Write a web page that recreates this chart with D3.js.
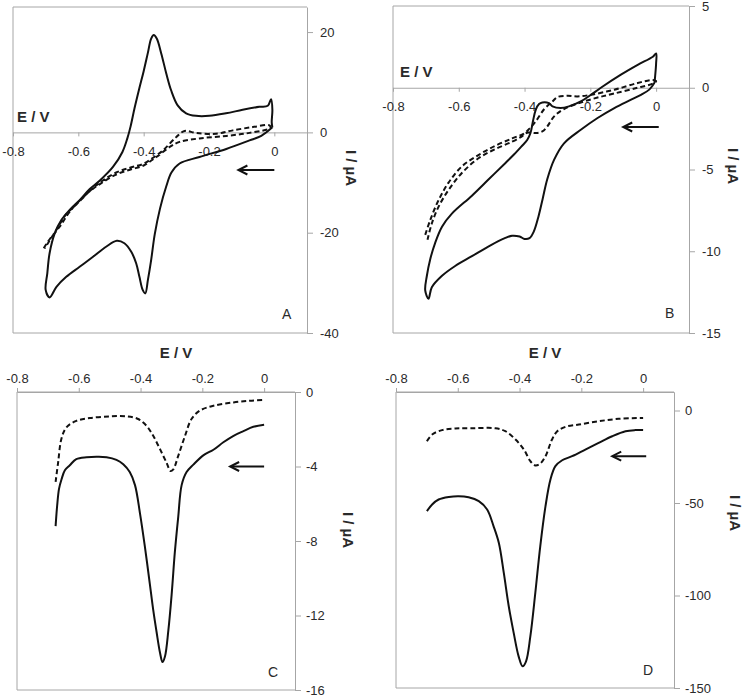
<!DOCTYPE html>
<html>
<head>
<meta charset="utf-8">
<script src="https://cdn.jsdelivr.net/npm/d3@7"></script>
<style>
  body { margin: 0; background: #fff; }
  svg { display: block; font-family: "Liberation Sans", Arial, sans-serif; }
</style>
</head>
<body>
<div id="chart"></div>
<script>
// ---- data: [E / V, I / µA] ----
const eTicks = [-0.8, -0.6, -0.4, -0.2, 0]

// A: cyclic voltammograms
const aSolid = [
  [-0.006, 1.0], [-0.04, -0.7], [-0.076, -1.6], [-0.147, -3.3], [-0.229, -4.9], [-0.29, -6.2],
  [-0.315, -8.0], [-0.331, -10.8], [-0.35, -15.2], [-0.366, -20.3],
  [-0.377, -25.4], [-0.387, -29.4], [-0.395, -32.1], [-0.403, -31.4], [-0.413, -28.8], [-0.423, -26.1],
  [-0.438, -23.8], [-0.459, -22.1], [-0.482, -21.6], [-0.515, -22.8], [-0.555, -24.8], [-0.596, -26.8],
  [-0.637, -28.8], [-0.667, -30.8], [-0.688, -32.9], [-0.700, -31.4], [-0.695, -28.1], [-0.688, -24.1],
  [-0.672, -20.1], [-0.652, -17.5], [-0.627, -15.5], [-0.596, -13.5], [-0.565, -11.3], [-0.534, -9.6],
  [-0.494, -6.9], [-0.465, -3.9], [-0.45, -1.2], [-0.44, 1.2], [-0.428, 4.8], [-0.414, 8.6],
  [-0.40, 12.2], [-0.387, 15.9], [-0.377, 18.7], [-0.369, 19.4], [-0.36, 18.7], [-0.346, 15.7],
  [-0.331, 11.8], [-0.316, 8.4], [-0.296, 5.4], [-0.27, 3.8], [-0.24, 3.3], [-0.199, 3.3], [-0.148, 3.8],
  [-0.097, 4.5], [-0.046, 5.1], [-0.02, 5.3], [-0.01, 6.6], [-0.006, 4.5], [-0.008, 2.0], [-0.006, 1.0]
]
const aDash = [
  [-0.706, -23.1], [-0.69, -21.5], [-0.657, -18.8], [-0.626, -15.8], [-0.586, -13.0], [-0.534, -10.0],
  [-0.484, -8.0], [-0.44, -7.0], [-0.402, -6.3], [-0.37, -5.0], [-0.341, -3.6], [-0.3, -0.93],
  [-0.275, 0.27], [-0.239, -0.13], [-0.178, -0.27], [-0.127, 0.4], [-0.066, 1.06], [-0.015, 1.4],
  [-0.012, 0.9], [-0.076, -0.1], [-0.147, -0.7], [-0.229, -1.2], [-0.29, -1.9], [-0.32, -2.9],
  [-0.361, -4.9], [-0.40, -6.6], [-0.44, -7.4], [-0.484, -8.4], [-0.534, -10.3], [-0.566, -11.8],
  [-0.606, -14.4], [-0.637, -16.3], [-0.668, -19.5], [-0.693, -22.1], [-0.703, -23.1]
]

// B: cyclic voltammograms
const bSolid = [
  [-0.005, 0.3], [-0.02, -0.1], [-0.046, -0.43], [-0.076, -0.73], [-0.127, -1.24], [-0.178, -1.85],
  [-0.229, -2.57], [-0.28, -3.4], [-0.31, -4.4], [-0.331, -5.6], [-0.345, -6.8], [-0.358, -7.9],
  [-0.372, -8.8], [-0.385, -9.2], [-0.40, -9.25], [-0.415, -9.1], [-0.438, -9.05], [-0.46, -9.2],
  [-0.509, -9.7], [-0.56, -10.3], [-0.611, -10.9], [-0.651, -11.5], [-0.682, -12.2], [-0.692, -12.9],
  [-0.702, -12.4], [-0.697, -11.5], [-0.687, -10.5], [-0.672, -9.5], [-0.651, -8.5], [-0.621, -7.7],
  [-0.56, -6.6], [-0.509, -5.6], [-0.458, -4.6], [-0.433, -4.1], [-0.41, -3.6], [-0.392, -3.2],
  [-0.382, -2.77], [-0.374, -2.0], [-0.366, -1.35], [-0.356, -1.0], [-0.346, -0.9], [-0.326, -0.94],
  [-0.315, -1.14], [-0.29, -1.24], [-0.265, -1.14], [-0.229, -0.84], [-0.198, -0.43], [-0.168, 0.0],
  [-0.107, 0.8], [-0.056, 1.4], [-0.01, 1.9], [0.0, 2.1], [0.0, 1.5], [-0.003, 0.7], [-0.005, 0.3]
]
const bDash = [
  [-0.702, -9.0], [-0.687, -8.1], [-0.662, -6.9], [-0.631, -5.8], [-0.59, -4.8], [-0.539, -4.1],
  [-0.489, -3.55], [-0.438, -3.1], [-0.402, -2.8], [-0.385, -2.5], [-0.366, -2.06], [-0.34, -1.3],
  [-0.315, -0.84], [-0.3, -0.57], [-0.27, -0.49], [-0.239, -0.53], [-0.198, -0.43], [-0.127, -0.12],
  [-0.056, 0.29], [-0.01, 0.47], [0.0, 0.4], [-0.01, 0.25], [-0.056, 0.0], [-0.127, -0.35],
  [-0.178, -0.6], [-0.229, -0.9], [-0.28, -1.3], [-0.31, -1.75], [-0.331, -2.37], [-0.346, -2.67],
  [-0.366, -2.77], [-0.392, -2.75], [-0.41, -3.0], [-0.438, -3.3], [-0.489, -3.75], [-0.539, -4.3],
  [-0.59, -5.2], [-0.631, -6.25], [-0.662, -7.3], [-0.682, -8.3], [-0.695, -9.3]
]

// C: voltammetric sweeps
const cSolid = [
  [-0.675, -7.2], [-0.670, -6.1], [-0.664, -5.2], [-0.656, -4.7], [-0.645, -4.2], [-0.629, -3.93],
  [-0.608, -3.6], [-0.575, -3.5], [-0.543, -3.48], [-0.51, -3.5], [-0.478, -3.64], [-0.456, -3.88],
  [-0.435, -4.3], [-0.418, -5.0], [-0.402, -6.5], [-0.386, -8.3], [-0.37, -10.3], [-0.359, -11.7],
  [-0.348, -12.9], [-0.337, -14.0], [-0.329, -14.5], [-0.321, -14.2], [-0.31, -12.8], [-0.299, -10.8],
  [-0.289, -8.6], [-0.278, -6.7], [-0.267, -5.0], [-0.251, -4.3], [-0.229, -3.9], [-0.197, -3.4],
  [-0.164, -3.1], [-0.132, -2.7], [-0.099, -2.35], [-0.067, -2.1], [-0.035, -1.87], [0, -1.76]
]
const cDash = [
  [-0.675, -4.83], [-0.667, -3.8], [-0.656, -2.5], [-0.64, -1.9], [-0.608, -1.55], [-0.564, -1.40],
  [-0.5, -1.31], [-0.445, -1.31], [-0.408, -1.45], [-0.381, -1.81], [-0.359, -2.35], [-0.337, -3.07],
  [-0.316, -3.79], [-0.303, -4.24], [-0.294, -4.15], [-0.278, -3.43], [-0.256, -2.35], [-0.235, -1.45],
  [-0.208, -1.0], [-0.164, -0.74], [-0.099, -0.56], [-0.045, -0.47], [0, -0.43]
]

// D: voltammetric sweeps
const dSolid = [
  [-0.700, -54.4], [-0.683, -50.8], [-0.662, -48.1], [-0.629, -46.7], [-0.597, -46.3], [-0.565, -46.9],
  [-0.532, -49.0], [-0.505, -53.5], [-0.484, -62.6], [-0.467, -71.6], [-0.451, -87.8], [-0.435, -105.8],
  [-0.419, -120.2], [-0.403, -132.9], [-0.390, -138.3], [-0.379, -135.6], [-0.365, -122.0], [-0.349, -98.6],
  [-0.333, -73.4], [-0.316, -51.7], [-0.300, -37.3], [-0.284, -30.1], [-0.262, -26.9], [-0.230, -24.7],
  [-0.187, -21.1], [-0.144, -17.5], [-0.100, -13.9], [-0.057, -11.2], [-0.025, -10.6], [0, -10.6]
]
const dDash = [
  [-0.700, -16.6], [-0.683, -13.0], [-0.651, -10.6], [-0.608, -9.7], [-0.554, -9.6], [-0.478, -9.6],
  [-0.446, -11.2], [-0.413, -15.7], [-0.386, -21.1], [-0.365, -27.4], [-0.349, -29.7], [-0.333, -28.7],
  [-0.316, -24.7], [-0.295, -15.7], [-0.278, -11.2], [-0.251, -8.8], [-0.208, -7.6], [-0.144, -5.8],
  [-0.079, -4.5], [0, -4.0]
]

// ---- layout ----
const width = 745
const height = 700
const axisColor = '#a6a6a6'
const textColor = '#2a2a2a'

const panels = [
  { letter: 'A', solid: aSolid, dash: aDash, left: 13, right: 307, top: 7, bottom: 333,
    yDomain: [-40, 25], yTicks: [20, 0, -20, -40], xTop: false, yPad: 7,
    arrow: { e0: 0, e1: -0.11, i: -7.5 },
    eLabel: { x: 17, y: 122, anchor: 'start' }, iLabel: { x: 346, y: 168 }, letterPos: { x: 282, y: 319 } },
  { letter: 'B', solid: bSolid, dash: bDash, left: 393, right: 689, top: 6, bottom: 333,
    yDomain: [-15, 5], yTicks: [5, 0, -5, -10, -15], xTop: false, yPad: 7,
    arrow: { e0: 0.008, e1: -0.1, i: -2.4 },
    eLabel: { x: 400, y: 77, anchor: 'start' }, iLabel: { x: 728, y: 166 }, letterPos: { x: 665, y: 318 } },
  { letter: 'C', solid: cSolid, dash: cDash, left: 17, right: 295, top: 392, bottom: 690,
    yDomain: [-16, 0], yTicks: [0, -4, -8, -12, -16], xTop: true, yPad: 5,
    arrow: { e0: 0, e1: -0.11, i: -4.0 },
    eLabel: { x: 176, y: 358, anchor: 'middle' }, iLabel: { x: 343, y: 530 }, letterPos: { x: 268, y: 677 } },
  { letter: 'D', solid: dSolid, dash: dDash, left: 396, right: 674, top: 392, bottom: 688,
    yDomain: [-150, 10], yTicks: [0, -50, -100, -150], xTop: true, yPad: 5,
    arrow: { e0: 0.01, e1: -0.1, i: -24.7 },
    eLabel: { x: 545, y: 358, anchor: 'middle' }, iLabel: { x: 730, y: 513 }, letterPos: { x: 643, y: 675 } }
]

const svg = d3.select('#chart')
  .append('svg')
  .attr('width', width)
  .attr('height', height)

function drawPanel(p) {
  const x = d3.scaleLinear().domain([-0.8, 0.1]).range([p.left, p.right])
  const y = d3.scaleLinear().domain(p.yDomain).range([p.bottom, p.top])
  const g = svg.append('g')

  // plot frame (left, top, bottom); right side is the I axis
  g.append('path')
    .attr('d', `M${p.right},${p.top}H${p.left}V${p.bottom}H${p.right}`)
    .attr('fill', 'none')
    .attr('stroke', axisColor)

  // I axis on the right
  const yAxis = d3.axisRight(y)
    .tickValues(p.yTicks)
    .tickSize(6)
    .tickSizeOuter(0)
    .tickPadding(p.yPad)
    .tickFormat(d => String(d))
  g.append('g')
    .attr('transform', `translate(${p.right},0)`)
    .call(yAxis)

  // E axis: at I = 0 for A/B, along the top for C/D
  const xAxis = (p.xTop ? d3.axisTop(x) : d3.axisBottom(x))
    .tickValues(eTicks)
    .tickSize(4)
    .tickSizeOuter(0)
    .tickPadding(p.xTop ? 5 : 10)
    .tickFormat(d => d === 0 ? '0' : d.toFixed(1))
  g.append('g')
    .attr('transform', `translate(0,${p.xTop ? p.top : y(0)})`)
    .call(xAxis)

  g.selectAll('.domain, .tick line').attr('stroke', axisColor)
  g.selectAll('.tick text')
    .attr('fill', textColor)
    .attr('font-size', 13)
    .attr('font-family', '"Liberation Sans", Arial, sans-serif')

  const line = d3.line()
    .x(d => x(d[0]))
    .y(d => y(d[1]))
    .curve(d3.curveCatmullRom.alpha(0.5))

  g.append('path')
    .datum(p.dash)
    .attr('d', line)
    .attr('fill', 'none')
    .attr('stroke', '#111')
    .attr('stroke-width', 2)
    .attr('stroke-dasharray', '5,3')

  g.append('path')
    .datum(p.solid)
    .attr('d', line)
    .attr('fill', 'none')
    .attr('stroke', '#111')
    .attr('stroke-width', 2)

  // scan direction arrow
  const ax0 = x(p.arrow.e0), ax1 = x(p.arrow.e1), ay = y(p.arrow.i)
  g.append('line')
    .attr('x1', ax0).attr('x2', ax1 + 1)
    .attr('y1', ay).attr('y2', ay)
    .attr('stroke', '#111')
    .attr('stroke-width', 2)
  g.append('path')
    .attr('d', `M${ax1 + 9},${ay - 4.5}L${ax1},${ay}L${ax1 + 9},${ay + 4.5}`)
    .attr('fill', 'none')
    .attr('stroke', '#111')
    .attr('stroke-width', 2)

  // labels
  g.append('text')
    .attr('x', p.eLabel.x)
    .attr('y', p.eLabel.y)
    .attr('text-anchor', p.eLabel.anchor)
    .attr('font-size', 15)
    .attr('font-weight', 'bold')
    .attr('fill', textColor)
    .text('E / V')

  g.append('text')
    .attr('transform', `translate(${p.iLabel.x},${p.iLabel.y}) rotate(90)`)
    .attr('text-anchor', 'middle')
    .attr('font-size', 15)
    .attr('font-weight', 'bold')
    .attr('fill', textColor)
    .text('I / µA')

  g.append('text')
    .attr('x', p.letterPos.x)
    .attr('y', p.letterPos.y)
    .attr('font-size', 14)
    .attr('fill', textColor)
    .text(p.letter)
}

panels.forEach(drawPanel)
</script>
</body>
</html>
